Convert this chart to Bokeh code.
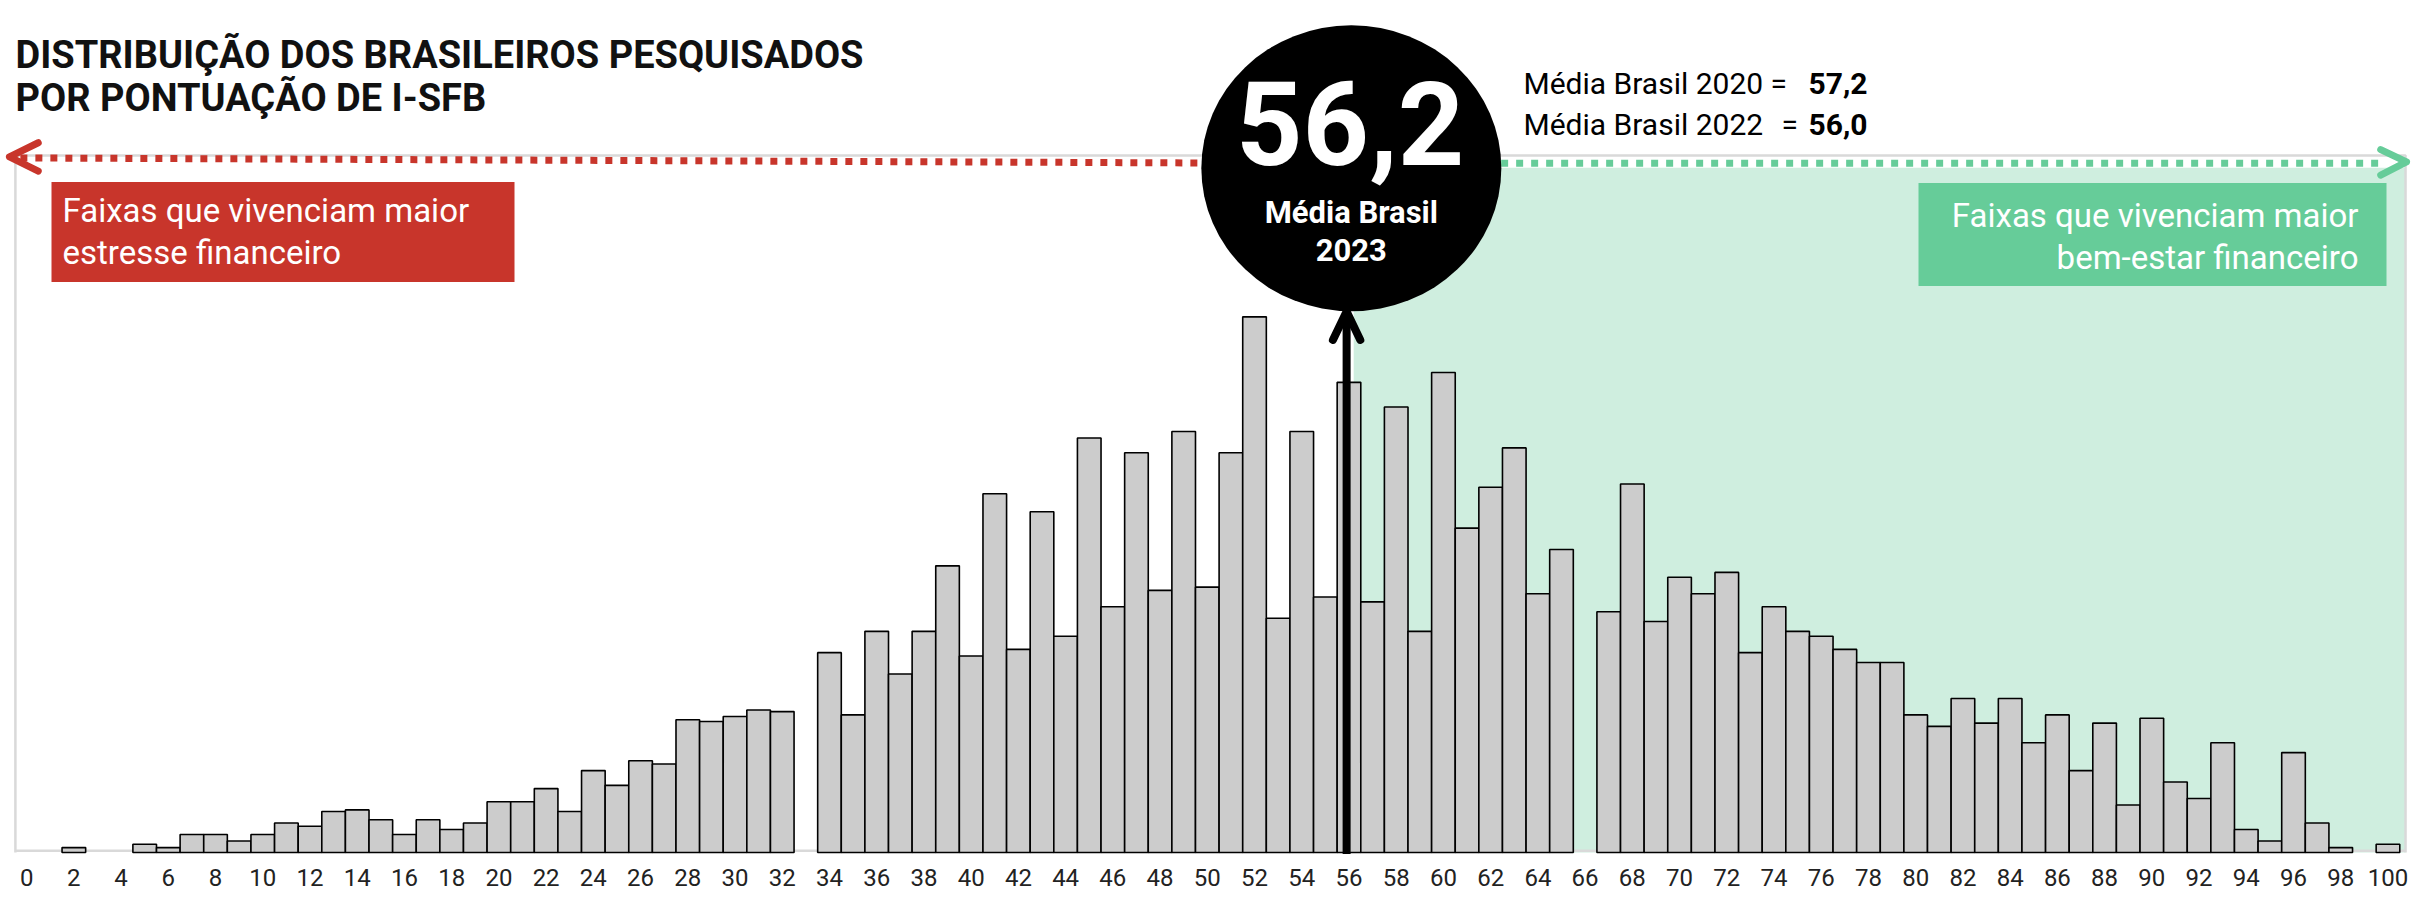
from bokeh.plotting import figure
from bokeh.models import Range1d, FixedTicker
from bokeh.core.properties import value
from bokeh.embed import file_html
from bokeh.resources import INLINE

# ---------------- data ----------------
scores = [2, 5, 6, 7, 8, 9, 10, 11, 12, 13, 14, 15, 16, 17, 18, 19, 20, 21, 22, 23,
          24, 25, 26, 27, 28, 29, 30, 31, 32,
          34, 35, 36, 37, 38, 39, 40, 41, 42, 43, 44, 45, 46, 47, 48, 49, 50, 51, 52, 53,
          54, 55, 56, 57, 58, 59, 60, 61, 62, 63, 64, 65,
          67, 68, 69, 70, 71, 72, 73, 74, 75, 76, 77, 78, 79, 80, 81, 82, 83, 84, 85, 86,
          87, 88, 89, 90, 91, 92, 93, 94, 95, 96, 97, 98, 100]
shares = [0.03, 0.05, 0.03, 0.11, 0.11, 0.07, 0.11, 0.18, 0.16, 0.25, 0.26, 0.20, 0.11, 0.20,
          0.14, 0.18, 0.31, 0.31, 0.39, 0.25, 0.50, 0.41, 0.56, 0.54, 0.81, 0.80, 0.83, 0.87, 0.86,
          1.22, 0.84, 1.35, 1.09, 1.35, 1.75, 1.20, 2.19, 1.24, 2.08, 1.32, 2.53, 1.50, 2.44,
          1.60, 2.57, 1.62, 2.44, 3.27, 1.43, 2.57, 1.56, 2.87, 1.53, 2.72, 1.35, 2.93, 1.98,
          2.23, 2.47, 1.58, 1.85,
          1.47, 2.25, 1.41, 1.68, 1.58, 1.71, 1.22, 1.50, 1.35, 1.32, 1.24, 1.16, 1.16, 0.84,
          0.77, 0.94, 0.79, 0.94, 0.67, 0.84, 0.50, 0.79, 0.29, 0.82, 0.43, 0.33, 0.67, 0.14,
          0.07, 0.61, 0.18, 0.03, 0.05]
tick_values = [0, 2, 4, 6, 8, 10, 12, 14, 16, 18, 20, 22, 24, 26, 28, 30, 32, 34, 36, 38, 40,
               42, 44, 46, 48, 50, 52, 54, 56, 58, 60, 62, 64, 66, 68, 70, 72, 74, 76, 78, 80,
               82, 84, 86, 88, 90, 92, 94, 96, 98, 100]
tick_labels = [str(t) for t in tick_values]

mean_2023 = 56.2
mean_2020 = 57.2
mean_2022 = 56.0
title_lines = ["DISTRIBUIÇÃO DOS BRASILEIROS PESQUISADOS", "POR PONTUAÇÃO DE I-SFB"]
stress_lines = ["Faixas que vivenciam maior", "estresse financeiro"]
wellbeing_lines = ["Faixas que vivenciam maior", "bem-estar financeiro"]
circle_lines = ["Média Brasil", "2023"]
prev_labels = ["Média Brasil 2020 =", "Média Brasil 2022"]


def fmt(v):
    return f"{v:.1f}".replace(".", ",")


# ---------------- layout helpers (reference-layout pixel -> data) ----------------
W, H = 2412, 897
BORDER_BOTTOM = 42
FRAME_H = H - BORDER_BOTTOM
REF_W = 2428                       # layout width the positions below refer to
SX = W / REF_W                     # slight horizontal squeeze so "100" fits
SY = 0.981                         # slight vertical squeeze so the labels fit
PX_X0, PX_PER_X = 26.3, 23.77      # pixel of score 0, pixels per score point
PX_Y0, PX_PER_Y = 868.5, 166.98    # pixel of 0 %, pixels per percentage point
BASE_SHIFT = 0.30                  # text baseline correction (fraction of font size)


def X(px):
    return (px - PX_X0) / PX_PER_X


def XA(px):
    """x for a free annotation that should land at canvas pixel px."""
    return X(px / SX)


def Y(py):
    return (PX_Y0 - py) / PX_PER_Y


def YT(py, fs):
    """y of a text whose alphabetic baseline should sit at layout pixel py."""
    return Y(py - BASE_SHIFT * fs / SY)


RED = "#c8352b"
GREEN = "#66cc99"
SHADE = "#cfeedf"
GRAY = "#d9d9d9"
BAR = "#cccccc"
ROBOTO = value("Roboto")

p = figure(width=W, height=H, output_backend="svg", toolbar_location=None,
           x_range=Range1d(X(0), X(REF_W)),
           y_range=Range1d(Y(FRAME_H / SY), Y(0)),
           min_border=0, min_border_left=0, min_border_right=0, min_border_top=0,
           min_border_bottom=BORDER_BOTTOM)
p.outline_line_color = None
p.grid.visible = False
p.yaxis.visible = False
p.background_fill_color = "white"

ax = p.xaxis[0]
ax.ticker = FixedTicker(ticks=tick_values)
ax.major_label_overrides = {t: lab for t, lab in zip(tick_values, tick_labels)}
ax.axis_line_color = None
ax.major_tick_line_color = None
ax.minor_tick_line_color = None
ax.major_tick_out = 0
ax.major_tick_in = 0
ax.major_label_standoff = 13
ax.major_label_text_font = "Roboto"
ax.major_label_text_font_size = "24px"
ax.major_label_text_color = "#222222"

# green "well-being" zone
p.quad(left=[mean_2023], right=[X(2421)], bottom=[0], top=[Y(170.5)],
       fill_color=SHADE, line_color=None)

# light grey frame
p.line(x=[X(15), X(15), X(2421), X(2421)], y=[0, Y(158), Y(158), 0],
       line_color=GRAY, line_width=2.5)
p.line(x=[X(15), X(2421)], y=[Y(866.7), Y(866.7)], line_color=GRAY, line_width=2.5)

# bars
p.vbar(x=scores, top=shares, bottom=0, width=1.0, fill_color=BAR,
       line_color="black", line_width=1.6)

# dotted arrows
p.line(x=[X(20), X(1300)], y=[Y(160.5), Y(166)], line_color=RED, line_width=7,
       line_dash="7 8")
p.line(x=[X(38), X(9), X(38)], y=[Y(145), Y(159.5), Y(174)], line_color=RED,
       line_width=7, line_cap="round", line_join="round")
p.line(x=[X(1420), X(2400)], y=[Y(166), Y(166)], line_color=GREEN, line_width=7,
       line_dash="7 8")
p.line(x=[X(2396), X(2422), X(2396)], y=[Y(152), Y(164.5), Y(178)], line_color=GREEN,
       line_width=7, line_cap="round", line_join="round")

# boxes
BOX_FS = 33
p.quad(left=[XA(51)], right=[XA(514)], top=[Y(185)], bottom=[Y(287)], fill_color=RED,
       line_color=None)
p.text(x=[XA(62)] * 2, y=[YT(224, BOX_FS), YT(267, BOX_FS)], text=stress_lines,
       text_font=ROBOTO, text_font_size=f"{BOX_FS}px", text_color="white",
       text_baseline="alphabetic", text_align="left")
p.quad(left=[XA(1918)], right=[XA(2386)], top=[Y(186)], bottom=[Y(291)],
       fill_color=GREEN, line_color=None)
p.text(x=[XA(2358)] * 2, y=[YT(229, BOX_FS), YT(272, BOX_FS)], text=wellbeing_lines,
       text_font=ROBOTO, text_font_size=f"{BOX_FS}px", text_color="white",
       text_baseline="alphabetic", text_align="right")

# mean arrow
ax_x = mean_2023 - 0.3
p.segment(x0=[ax_x], y0=[Y(870)], x1=[ax_x], y1=[Y(322)], line_color="black",
          line_width=8)
p.line(x=[ax_x - 0.58, ax_x, ax_x + 0.58], y=[Y(346), Y(317), Y(346)],
       line_color="black", line_width=8, line_cap="round", line_join="round")

# disc with the 2023 mean
cx = mean_2023 - 0.1
BIG_FS, MID_FS = 116, 31
p.ellipse(x=[cx], y=[Y(171)], width=300, height=286, width_units="screen",
          height_units="screen", fill_color="black", line_color=None)
p.text(x=[cx - 0.05], y=[YT(160, BIG_FS)], text=[fmt(mean_2023)], text_font=ROBOTO,
       text_font_size=f"{BIG_FS}px", text_font_style="bold", text_color="white",
       text_baseline="alphabetic", text_align="center")
p.text(x=[cx] * 2, y=[YT(226, MID_FS), YT(264, MID_FS)], text=circle_lines,
       text_font=ROBOTO, text_font_size=f"{MID_FS}px", text_font_style="bold",
       text_color="white", text_baseline="alphabetic", text_align="center")

# previous means
PREV_FS = 30
p.text(x=[XA(1523)] * 2, y=[YT(94, PREV_FS), YT(136, PREV_FS)], text=prev_labels,
       text_font=ROBOTO, text_font_size=f"{PREV_FS}px", text_color="black",
       text_baseline="alphabetic", text_align="left")
p.text(x=[XA(1781)], y=[YT(136, PREV_FS)], text=["="], text_font=ROBOTO,
       text_font_size=f"{PREV_FS}px", text_color="black", text_baseline="alphabetic",
       text_align="left")
p.text(x=[XA(1808)] * 2, y=[YT(94, PREV_FS), YT(136, PREV_FS)],
       text=[fmt(mean_2020), fmt(mean_2022)], text_font=ROBOTO,
       text_font_size=f"{PREV_FS}px", text_font_style="bold", text_color="black",
       text_baseline="alphabetic", text_align="left")

# title
TITLE_FS = 38
p.text(x=[XA(15)] * 2, y=[YT(67, TITLE_FS), YT(111, TITLE_FS)], text=title_lines,
       text_font=ROBOTO, text_font_size=f"{TITLE_FS}px", text_font_style="bold",
       text_color="#111111", text_baseline="alphabetic", text_align="left")

open("out.html", "w").write(file_html(p, INLINE))
